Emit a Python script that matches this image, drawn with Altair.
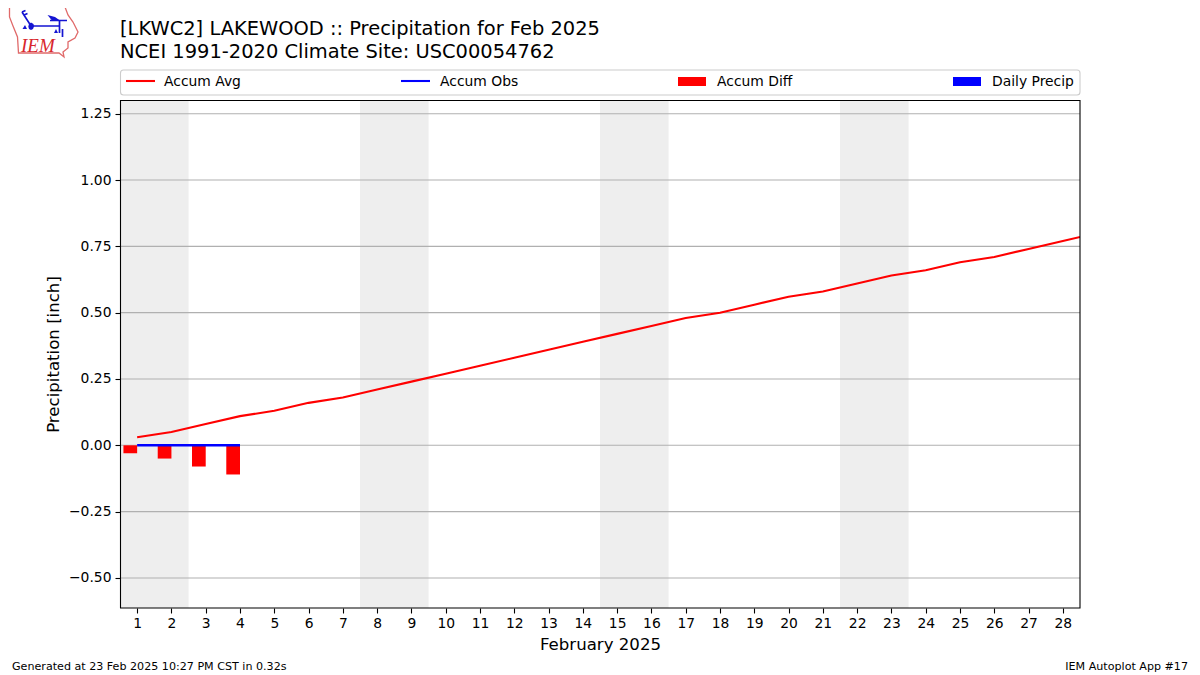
import altair as alt
import pandas as pd

TITLE = ["[LKWC2] LAKEWOOD :: Precipitation for Feb 2025", "NCEI 1991-2020 Climate Site: USC00054762"]
FOOT_L = "Generated at 23 Feb 2025 10:27 PM CST in 0.32s"
FOOT_R = "IEM Autoplot App #17"
FONT = "DejaVu Sans"

days = list(range(1, 30))
accum_avg = [0.03, 0.05, 0.08, 0.11, 0.13, 0.16, 0.18, 0.21, 0.24, 0.27, 0.30, 0.33, 0.36, 0.39,
             0.42, 0.45, 0.48, 0.50, 0.53, 0.56, 0.58, 0.61, 0.64, 0.66, 0.69, 0.71, 0.74, 0.77, 0.80]
obs_days = [1, 2, 3, 4]
accum_obs = [0.0, 0.0, 0.0, 0.0]
accum_diff = [-0.03, -0.05, -0.08, -0.11]
daily_precip = [0.0, 0.0, 0.0, 0.0]
weekend_start = [0.5, 7.5, 14.5, 21.5]
weekend_end = [2.5, 9.5, 16.5, 23.5]
y_ticks = [-0.5, -0.25, 0, 0.25, 0.5, 0.75, 1.0, 1.25]
x_ticks = list(range(1, 29))

W, H = 960, 508
OX, OY = 120, 92 + 8
xs = alt.Scale(domain=[0.5, 28.5], nice=False, zero=False)
ys = alt.Scale(domain=[-0.6133, 1.3016], nice=False, zero=False)

avg = pd.DataFrame({"day": days, "v": accum_avg})
obs = pd.DataFrame({"day": obs_days, "v": accum_obs, "diff": accum_diff, "precip": daily_precip})
obs["d0"] = obs["day"] - 0.4
obs["d1"] = obs["day"]
obs["p1"] = obs["day"] + 0.4
bands = pd.DataFrame({"a": weekend_start, "b": weekend_end})
grid = pd.DataFrame({"y": y_ticks})

band_layer = alt.Chart(bands).mark_rect(color="#eeeeee").encode(
    x=alt.X("a:Q", scale=xs,
            axis=alt.Axis(values=x_ticks, tickCount=len(x_ticks), format="d", title="February 2025",
                          grid=False, domain=False,
                          labelFont=FONT, labelFontSize=13.89, labelColor="black", tickColor="black",
                          tickSize=5, tickWidth=1.1, labelPadding=3, labelFlush=False, labelOverlap=False,
                          titleFont=FONT, titleFontSize=16.6, titleFontWeight="normal", titleColor="black",
                          titlePadding=7)),
    x2="b:Q",
)
grid_layer = alt.Chart(grid).mark_rule(color="#b0b0b0", strokeWidth=1.1).encode(
    y=alt.Y("y:Q", scale=ys,
            axis=alt.Axis(values=y_ticks, tickCount=len(y_ticks), format=".2f", title="Precipitation [inch]",
                          grid=False, domain=False,
                          labelFont=FONT, labelFontSize=13.89, labelColor="black", tickColor="black",
                          tickSize=5, tickWidth=1.1, labelPadding=4,
                          titleFont=FONT, titleFontSize=16.6, titleFontWeight="normal", titleColor="black",
                          titlePadding=7)),
)
diff_layer = alt.Chart(obs).mark_rect(color="#ff0000").encode(
    x=alt.X("d0:Q", scale=xs), x2="d1:Q",
    y=alt.Y("diff:Q", scale=ys), y2=alt.Y2(datum=0),
)
precip_layer = alt.Chart(obs).mark_rect(color="#0000ff").encode(
    x=alt.X("d1:Q", scale=xs), x2="p1:Q",
    y=alt.Y("precip:Q", scale=ys), y2=alt.Y2(datum=0),
)
avg_layer = alt.Chart(avg).mark_line(color="#ff0000", strokeWidth=2.08, clip=True).encode(
    x=alt.X("day:Q", scale=xs), y=alt.Y("v:Q", scale=ys))
obs_layer = alt.Chart(obs).mark_line(color="#0000ff", strokeWidth=2.4, clip=True).encode(
    x=alt.X("day:Q", scale=xs), y=alt.Y("v:Q", scale=ys))


def px(v):
    return alt.value(v - OX)


def py(v):
    return alt.value(v - OY)


def label(text, x, y, size=13.89, align="left", font=FONT, color="black", **kw):
    return alt.Chart(pd.DataFrame({"t": [text]})).mark_text(
        align=align, baseline="alphabetic", font=font, fontSize=size, color=color, **kw
    ).encode(x=px(x), y=py(y), text="t:N")


def hline(x0, x1, y, color):
    return alt.Chart(pd.DataFrame({"a": [0]})).mark_rule(color=color, strokeWidth=2.08).encode(
        x=px(x0), x2=px(x1), y=py(y))


def box(x0, x1, y0, y1, **kw):
    return alt.Chart(pd.DataFrame({"a": [0]})).mark_rect(**kw).encode(
        x=px(x0), x2=px(x1), y=py(y0), y2=py(y1))


def logo(path, **kw):
    # Path is in picture pixels relative to (44, 32), divided by 40
    return alt.Chart(pd.DataFrame({"a": [0]})).mark_point(shape=path, size=6400, opacity=1, **kw).encode(
        x=px(44), y=py(32))


def P(points):
    cmd = []
    for i, (x, y) in enumerate(points):
        cmd.append(("M" if i == 0 else "L") + f"{(x-44)/40:.4f},{(y-32)/40:.4f}")
    return "".join(cmd)


outline = [(9.5, 7), (65, 7), (68, 15), (73, 22), (78, 32), (75, 38), (68, 42), (68, 48), (63, 52),
           (64, 57), (59, 53), (18.5, 53), (17.5, 37), (13, 26), (9.5, 17), (9.5, 7)]
staff = P([(22, 12), (31, 26), (60, 26)]) + P([(50, 20.5), (67, 20.5)]) + P([(59.5, 20.5), (59.5, 33)]) \
    + P([(62.5, 29), (62.5, 37)]) + P([(22, 12), (25.5, 10.5)]) + P([(24, 15), (27.5, 13.5)])
tri = P([(47.5, 15), (55, 17), (60, 20.5), (52, 20.5), (47.5, 15)]) \
    + P([(31, 22.5), (33.5, 24), (34, 26.5), (33, 29), (31, 30), (29, 29), (28.3, 26.5), (29, 24), (31, 22.5)]) \
    + P([(25, 25), (27, 29), (22.5, 29), (25, 25)]) + P([(56, 29), (58, 33), (54, 33), (56, 29)])

deco = [
    box(120.5, 1080, 100.5, 608, filled=False, stroke="black", strokeWidth=1.1),
    box(120.5, 1080, 70, 95, fill="white", stroke="#cccccc", strokeWidth=1.1, cornerRadius=3),
    hline(126, 155, 81, "#ff0000"), label("Accum Avg", 164, 86),
    hline(401, 430, 81, "#0000ff"), label("Accum Obs", 440, 86),
    box(678, 706, 77, 86, color="#ff0000"), label("Accum Diff", 717, 86),
    box(953, 981, 77, 86, color="#0000ff"), label("Daily Precip", 992, 86),
    label(TITLE[0], 120, 35, size=19.44), label(TITLE[1], 120, 58, size=19.44),
    label(FOOT_L, 12, 670, size=11.11), label(FOOT_R, 1188, 670, size=11.11, align="right"),
    logo(P(outline), filled=False, color="#e06a6a", strokeWidth=1.3),
    logo(staff, filled=False, color="#1414d2", strokeWidth=1.7),
    logo(tri, filled=True, color="#1414d2"),
    label("IEM", 21, 52, size=19, font="Liberation Serif", color="#d8262c", fontStyle="italic"),
]

chart = alt.layer(
    band_layer, grid_layer, diff_layer, precip_layer, avg_layer, obs_layer, *deco
).resolve_scale(x="shared", y="shared").properties(
    width=W, height=H,
    autosize=alt.AutoSizeParams(type="none"),
    padding={"left": 112, "top": 92, "right": 112, "bottom": 67},
    background="white",
).configure_view(stroke=None)

chart.save("out.html", embed_options={"renderer": "svg", "actions": False})
